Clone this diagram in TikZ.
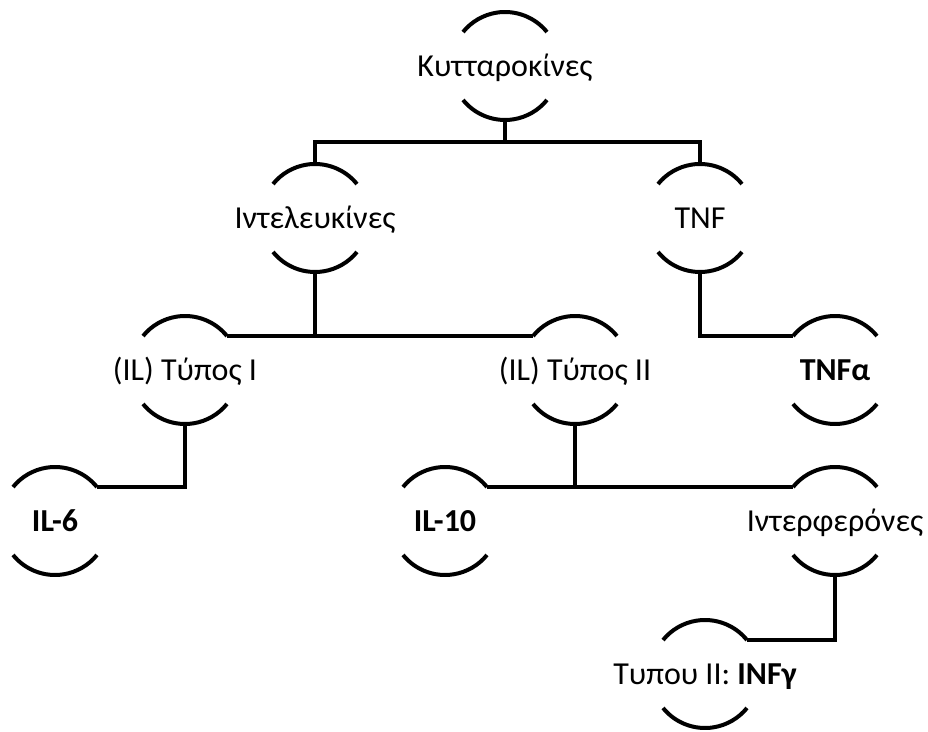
\documentclass[tikz,border=0pt]{standalone}
\usepackage{fontspec}
\setmainfont{Carlito}
\begin{document}
\begin{tikzpicture}[x=1pt,y=1pt,
  ring/.style={circle,minimum size=108pt,inner sep=0pt,outer sep=0pt},
  txt/.style={font=\fontsize{32}{38}\selectfont,inner sep=0pt,text height=20.6pt,text depth=0pt,anchor=center},
  wire/.style={line width=4pt,line join=miter},
  arcline/.style={line width=4pt}]
\useasboundingbox (0,0) rectangle (928,731);
% ring positions
\node[ring] (k)    at (505,665) {};
\node[ring] (i)    at (315,513) {};
\node[ring] (t)    at (700,513) {};
\node[ring] (p1)   at (185,361) {};
\node[ring] (p2)   at (575,361) {};
\node[ring] (ta)   at (835,361) {};
\node[ring] (il6)  at (55,210) {};
\node[ring] (il10) at (445,210) {};
\node[ring] (inf)  at (835,210) {};
\node[ring] (ty)   at (705,57) {};
% labels
\node[txt] (kt)    at (k)    {Κυτταροκίνες};
\node[txt] (it)    at (i)    {Ιντελευκίνες};
\node[txt] (tt)    at (t)    {TNF};
\node[txt] (p1t)   at (p1)   {(IL) Τύπος I};
\node[txt] (p2t)   at (p2)   {(IL) Τύπος II};
\node[txt] (tat)   at (ta)   {\bfseries TNFα};
\node[txt] (il6t)  at (il6)  {\bfseries IL-6};
\node[txt] (il10t) at (il10) {\bfseries IL-10};
\node[txt] (inft)  at (inf)  {Ιντερφερόνες};
\node[txt] (tyt)   at (ty)   {Τυπου ΙΙ: \textbf{INFγ}};
% arcs
\foreach \n in {k,i,t,p1,p2,ta,il6,il10,inf,ty}{
  \draw[arcline] (\n.39) arc[start angle=39,end angle=141,radius=54pt];
  \draw[arcline] (\n.219) arc[start angle=219,end angle=321,radius=54pt];
}
% connectors
\coordinate (kbus) at ([yshift=-22pt]k.south);
\draw[wire] (k.south) -- (kbus);
\draw[wire] (i.north) |- (kbus) -| (t.north);
\draw[wire] (p1.39) -- (p2.141);
\draw[wire] (i.south) -- (i.south |- p1.39);
\draw[wire] (t.south) |- (ta.141);
\draw[wire] (p1.south) |- (il6.39);
\draw[wire] (il10.39) -- (inf.141);
\draw[wire] (p2.south) -- (p2.south |- il10.39);
\draw[wire] (inf.south) |- (ty.39);
\end{tikzpicture}
\end{document}
